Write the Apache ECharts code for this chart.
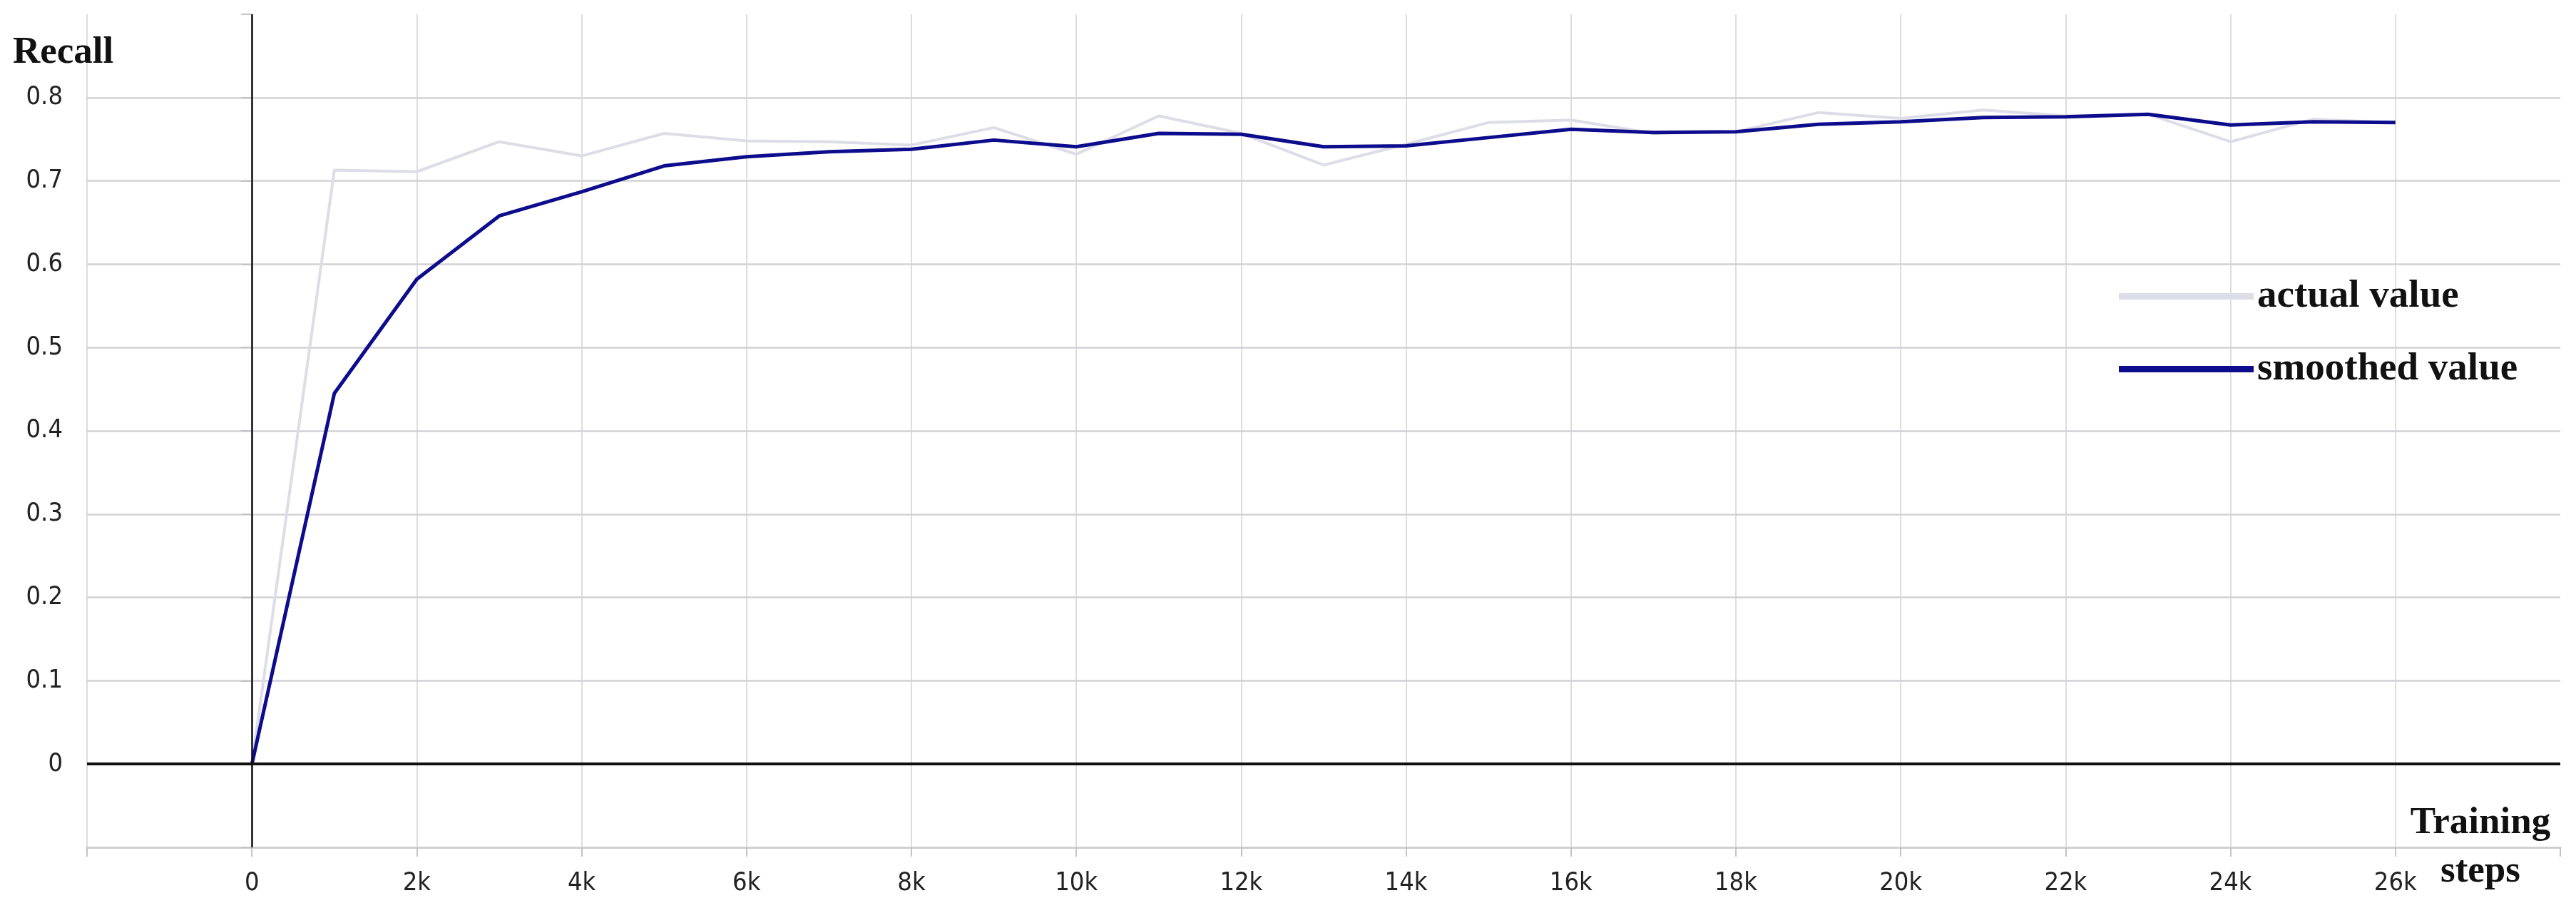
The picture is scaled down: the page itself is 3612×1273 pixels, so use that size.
<!DOCTYPE html>
<html>
<head>
<meta charset="utf-8">
<script src="https://cdn.jsdelivr.net/npm/echarts@6/dist/echarts.min.js"></script>
<style>
html,body{margin:0;padding:0;background:#fff;}
#chart{width:3612px;height:1273px;}
</style>
</head>
<body>
<div id="chart"></div>
<script>
const steps = [0,1000,2000,3000,4000,5000,6000,7000,8000,9000,10000,11000,12000,13000,14000,15000,16000,17000,18000,19000,20000,21000,22000,23000,24000,25000,26000];
const actualValue = [0,0.713,0.711,0.747,0.730,0.757,0.748,0.747,0.743,0.764,0.732,0.778,0.757,0.719,0.744,0.770,0.773,0.757,0.759,0.782,0.775,0.785,0.778,0.780,0.747,0.774,0.770];
const smoothedValue = [0,0.445,0.582,0.658,0.687,0.718,0.729,0.735,0.738,0.749,0.741,0.757,0.756,0.741,0.742,0.752,0.762,0.758,0.759,0.768,0.771,0.776,0.777,0.780,0.767,0.771,0.770];
const seriesNames = ['actual value','smoothed value'];
const xAxisName = 'Training\nsteps';
const yAxisName = 'Recall';

const chart = echarts.init(document.getElementById('chart'));
const gridGray = '#d2d2d6';
const xSplitColors = [];
for (let v = -2000; v <= 28000; v += 2000) xSplitColors.push(v === 28000 ? 'rgba(0,0,0,0)' : gridGray);
const ySplitColors = [];
for (let i = 0; i <= 10; i++) ySplitColors.push(i === 10 ? 'rgba(0,0,0,0)' : gridGray);

const serif = "'Liberation Serif','Times New Roman',serif";
const sans = "'DejaVu Sans Condensed','Liberation Sans Narrow','DejaVu Sans',sans-serif";

chart.setOption({
  animation: false,
  backgroundColor: '#ffffff',
  title: {
    text: yAxisName,
    left: 18,
    top: 48,
    padding: 0,
    textStyle: {fontFamily: serif, fontWeight: 'bold', fontSize: 53, color: '#111', lineHeight: 53}
  },
  grid: {left: 122, right: 22, top: 20, bottom: 85, containLabel: false},
  legend: {
    orient: 'vertical',
    left: 2966,
    top: 383,
    itemWidth: 189,
    itemHeight: 9,
    itemGap: 47,
    icon: 'rect',
    textStyle: {fontFamily: serif, fontWeight: 'bold', fontSize: 55, color: '#111', lineHeight: 55},
    data: seriesNames
  },
  xAxis: {
    type: 'value',
    min: -2000, max: 28000, interval: 2000,
    name: xAxisName,
    nameLocation: 'end',
    nameGap: -112,
    nameMoveOverlap: false,
    nameTextStyle: {fontFamily: serif, fontWeight: 'bold', fontSize: 53, color: '#111', lineHeight: 68, align: 'center', verticalAlign: 'middle', padding: [0,0,20,0]},
    axisLine: {onZero: false, show: true, lineStyle: {color: '#cfcfd3', width: 3}},
    axisTick: {show: true, length: 13, lineStyle: {color: '#c4c4c8', width: 2}},
    axisLabel: {
      margin: 33, fontFamily: sans, fontSize: 36, color: '#222',
      formatter: v => (v < 0 || v > 26000) ? '' : (v === 0 ? '0' : (v / 1000) + 'k')
    },
    splitLine: {show: true, lineStyle: {color: xSplitColors, width: 1.5}}
  },
  yAxis: {
    type: 'value',
    min: -0.1, max: 0.9, interval: 0.1,
    axisLine: {show: true, lineStyle: {color: '#c4c4c8', width: 1.5}},
    axisTick: {show: true, length: 15, lineStyle: {color: '#c4c4c8', width: 2}},
    axisLabel: {
      margin: 34, fontFamily: sans, fontSize: 36, color: '#222',
      formatter: v => (v < -0.05 || v > 0.85) ? '' : String(+v.toFixed(1))
    },
    splitLine: {show: true, lineStyle: {color: ySplitColors, width: 2.5}}
  },
  series: [
    {
      name: seriesNames[0],
      type: 'line',
      data: steps.map((s, i) => [s, actualValue[i]]),
      showSymbol: false,
      symbol: 'none',
      lineStyle: {color: '#dcdde7', width: 4},
      itemStyle: {color: '#dcdde7'},
      z: 2,
      markLine: {
        silent: true,
        symbol: 'none',
        label: {show: false},
        data: [
          {xAxis: 0, lineStyle: {color: '#111', width: 2.5, type: 'solid'}},
          {yAxis: 0, lineStyle: {color: '#111', width: 4, type: 'solid'}}
        ]
      }
    },
    {
      name: seriesNames[1],
      type: 'line',
      data: steps.map((s, i) => [s, smoothedValue[i]]),
      showSymbol: false,
      symbol: 'none',
      lineStyle: {color: '#0c0c8c', width: 5},
      itemStyle: {color: '#0c0c8c'},
      z: 3
    }
  ]
});
</script>
</body>
</html>
